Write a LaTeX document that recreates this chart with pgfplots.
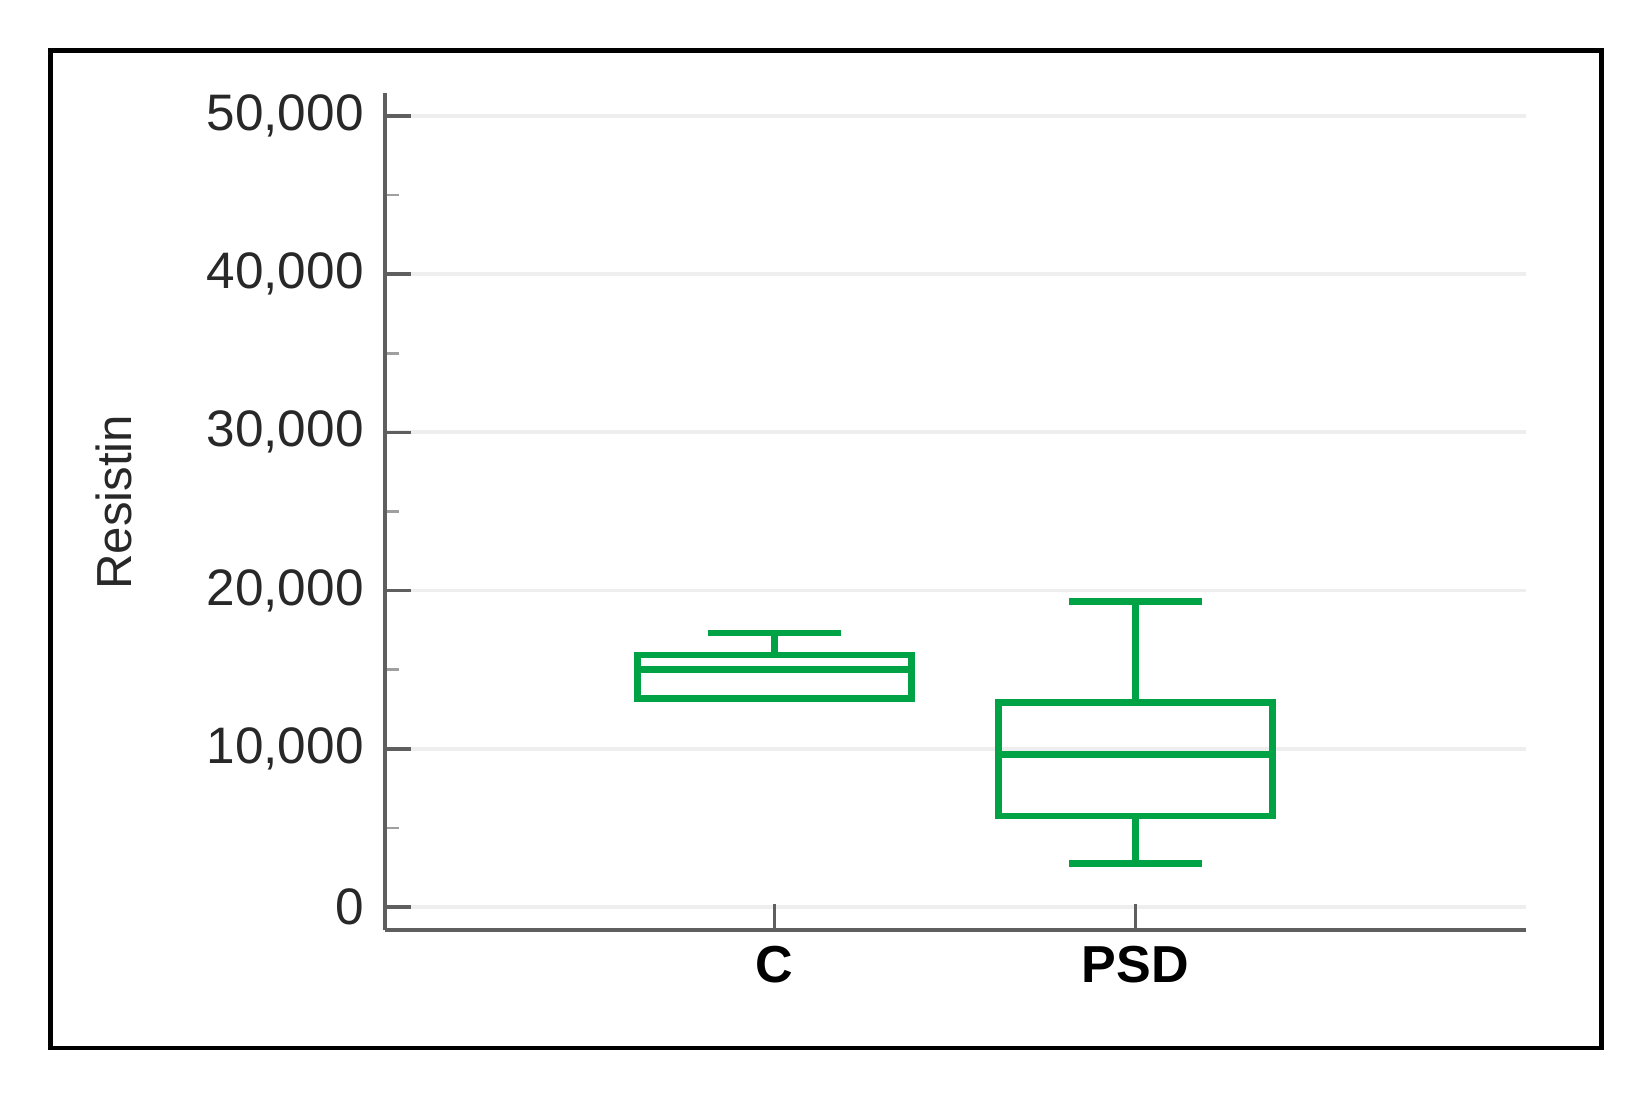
\documentclass[border=0pt]{standalone}
\usepackage{pgfplots}
\pgfplotsset{compat=1.18}
\usepackage{fontspec}
\setmainfont{Liberation Sans}
\definecolor{boxgreen}{RGB}{0,162,70}
\definecolor{axgray}{RGB}{95,95,95}
\definecolor{gridgray}{RGB}{238,238,238}
\definecolor{labgray}{RGB}{40,40,40}
\begin{document}
\begin{tikzpicture}
\useasboundingbox (-38.5mm,-16.6mm) rectangle (126.5mm,93mm);
\begin{axis}[
  at={(0,0)}, anchor=south west,
  scale only axis,
  width=114.1mm, height=83.7mm,
  axis lines=left,
  axis line style={-, axgray, line width=1.3pt},
  xmin=-0.079, xmax=3.082,
  ymin=-1450, ymax=51440,
  xtick={1,2}, xticklabels={C,PSD},
  ytick={0,10000,20000,30000,40000,50000},
  minor y tick num=1,
  major tick length=2.6mm,
  minor tick length=1.4mm,
  tick style={axgray, line width=1pt},
  minor tick style={axgray!60, line width=0.8pt},
  tick align=inside,
  ymajorgrids,
  grid style={gridgray, line width=1.1pt},
  yticklabel style={font=\fontsize{14.6}{16}\selectfont, text=labgray, xshift=-0.9mm,
    /pgf/number format/1000 sep={,}, /pgf/number format/assume math mode=true},
  xticklabel style={font=\fontsize{14.8}{16}\selectfont\bfseries, text=black, yshift=-0.4mm},
  scaled y ticks=false,
  ylabel={Resistin},
  every axis y label/.style={at={(axis description cs:-0.2375,0.511)}, rotate=90, anchor=center, font=\fontsize{14}{16}\selectfont, text=labgray},
  clip=false,
]
\pgfplotsset{bx/.style={draw=boxgreen, line width=1.9pt, mark=none, solid, line join=miter}}
% C
\addplot[bx] coordinates {(0.621,13158) (1.379,13158) (1.379,15937) (0.621,15937)} -- cycle;
\addplot[bx] coordinates {(0.621,15011) (1.379,15011)};
\addplot[bx] coordinates {(1,15937) (1,17326)};
\addplot[bx] coordinates {(0.8165,17326) (1.1835,17326)};
% PSD
\addplot[bx] coordinates {(1.621,5747) (2.379,5747) (2.379,12947) (1.621,12947)} -- cycle;
\addplot[bx] coordinates {(1.621,9621) (2.379,9621)};
\addplot[bx] coordinates {(2,12947) (2,19305)};
\addplot[bx] coordinates {(1.8165,19305) (2.1835,19305)};
\addplot[bx] coordinates {(2,5747) (2,2737)};
\addplot[bx] coordinates {(1.8165,2737) (2.1835,2737)};
\end{axis}
\draw[black, line width=1.2pt] (-33.45mm,-11.8mm) rectangle (121.66mm,87.95mm);
\end{tikzpicture}
\end{document}
